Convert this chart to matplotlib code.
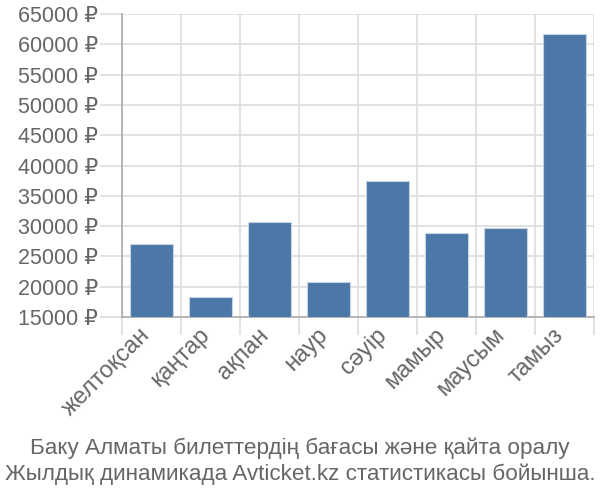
import numpy as np
import matplotlib.pyplot as plt
import matplotlib.transforms as mtransforms
from matplotlib.ticker import FixedLocator, FuncFormatter

plt.rcParams['font.family'] = ['Liberation Sans', 'DejaVu Sans']

months = ['желтоқсан', 'қаңтар', 'ақпан', 'наур', 'сәуір', 'мамыр', 'маусым', 'тамыз']
prices = [27000, 18300, 30700, 20800, 37500, 28800, 29700, 61700]
yticks = list(range(15000, 65001, 5000))

title = ('Баку Алматы билеттердің бағасы және қайта оралу\n'
         'Жылдық динамикада Avticket.kz статистикасы бойынша.')

grid_col = '#dddddd'
text_col = '#666666'

fig = plt.figure(figsize=(6, 5), dpi=100)
ax = fig.add_axes([0.203, 0.366, 0.787, 0.606])

x = np.arange(len(months))
ax.bar(x, prices, width=0.72, bottom=0, color='#4c78a8', edgecolor='#c5d3e3', linewidth=0.8, zorder=3)

ax.set_xlim(-0.5, len(months) - 0.5)
ax.set_ylim(15000, 65000)

ax.set_yticks(yticks)
ax.yaxis.set_major_formatter(FuncFormatter(lambda v, p: f'{int(v)} ₽'))
ax.tick_params(axis='y', length=16, color=grid_col, width=1.2, labelsize=15.5, labelcolor=text_col, pad=1)
ax.grid(axis='y', color=grid_col, linewidth=1.2, zorder=0)

ax.set_xticks(x)
ax.set_xticklabels(months, rotation=45, ha='right', va='top', rotation_mode='anchor')
ax.tick_params(axis='x', which='major', length=0, labelsize=17, labelcolor=text_col, pad=5)
shift = mtransforms.ScaledTranslation(-0.12, 0, fig.dpi_scale_trans)
for lbl in ax.get_xticklabels():
    lbl.set_transform(lbl.get_transform() + shift)
ax.xaxis.set_minor_locator(FixedLocator(np.arange(len(months) + 1) - 0.5))
ax.tick_params(axis='x', which='minor', length=13, color=grid_col, width=1.2)
ax.grid(axis='x', which='minor', color=grid_col, linewidth=1.2, zorder=0)

for s in ['top', 'right']:
    ax.spines[s].set_visible(False)
ax.spines['left'].set_color('#aaaaaa')
ax.spines['left'].set_linewidth(1.2)
ax.spines['bottom'].set_color('#aaaaaa')
ax.spines['bottom'].set_linewidth(1.2)

fig.text(0.5, 0.078, title, ha='center', va='center', fontsize=16.2, color=text_col, linespacing=1.25)

fig.savefig('out.png', dpi=100)
